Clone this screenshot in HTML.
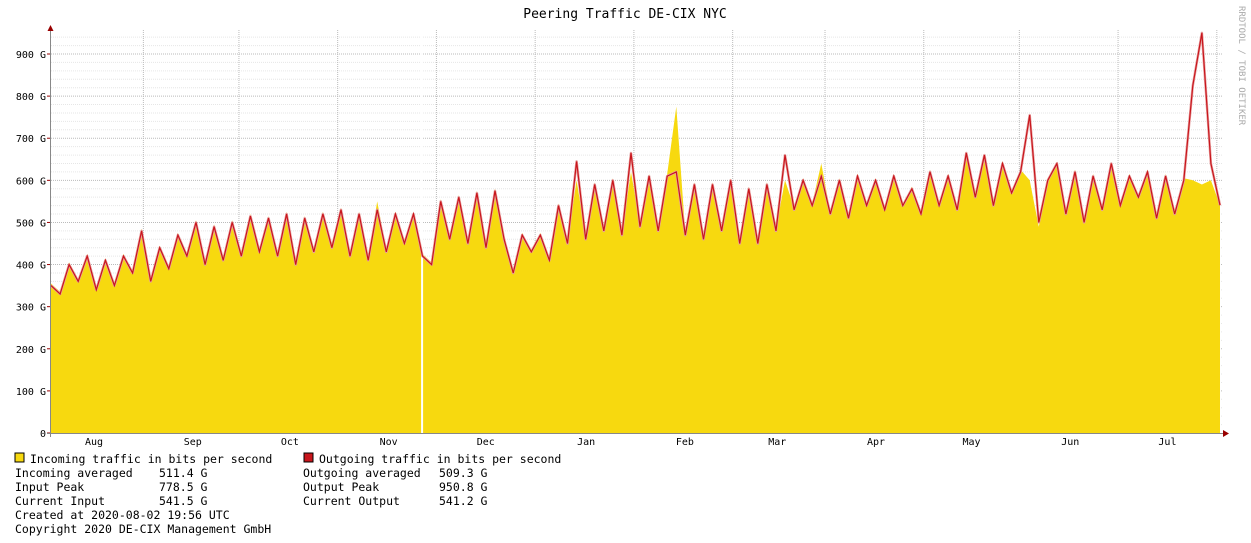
<!DOCTYPE html>
<html><head><meta charset="utf-8"><style>
body{margin:0;background:#fff;}
svg{display:block;font-family:"DejaVu Sans Mono","Liberation Mono",monospace;}
</style></head><body>
<svg id="chart" width="1251" height="543" viewBox="0 0 1251 543" xmlns="http://www.w3.org/2000/svg">
<rect width="1251" height="543" fill="#ffffff"/>
<text x="625" y="18" font-size="13" text-anchor="middle" fill="#000">Peering Traffic DE-CIX NYC</text>
<text transform="translate(1239,6) rotate(90)" font-size="9" fill="#aaa">RRDTOOL / TOBI OETIKER</text>
<g id="grid"></g>
<g id="series"></g>
<g id="axes"></g>
<g font-size="11.5" fill="#000">
<rect x="15" y="453" width="9" height="9" fill="#f7d90f" stroke="#000" stroke-width="1"/>
<text x="30" y="463">Incoming traffic in bits per second</text>
<rect x="304" y="453" width="9" height="9" fill="#c8161d" stroke="#000" stroke-width="1"/>
<text x="319" y="463">Outgoing traffic in bits per second</text>
<text x="15" y="477">Incoming averaged</text><text x="159" y="477">511.4 G</text>
<text x="15" y="491">Input Peak</text><text x="159" y="491">778.5 G</text>
<text x="15" y="505">Current Input</text><text x="159" y="505">541.5 G</text>
<text x="303" y="477">Outgoing averaged</text><text x="439" y="477">509.3 G</text>
<text x="303" y="491">Output Peak</text><text x="439" y="491">950.8 G</text>
<text x="303" y="505">Current Output</text><text x="439" y="505">541.2 G</text>
<text x="15" y="519">Created at 2020-08-02 19:56 UTC</text>
<text x="15" y="533">Copyright 2020 DE-CIX Management GmbH</text>
</g>
</svg>
<script>
const yTicks = [0,100,200,300,400,500,600,700,800,900];
const yTickLabels = ["0","100 G","200 G","300 G","400 G","500 G","600 G","700 G","800 G","900 G"];
const monthLabels = ["Aug","Sep","Oct","Nov","Dec","Jan","Feb","Mar","Apr","May","Jun","Jul"];
const monthCenters = [13.5,44.5,75,106,136.5,168,199,228,259,289,320,350.5];
const monthLines = [29,59,90,121,152,183,214,243,274,304,335,366];
const outgoing = [350,330,400,360,420,340,410,350,420,380,480,360,440,390,470,420,500,400,490,410,
500,420,515,430,510,420,520,400,510,430,520,440,530,420,520,410,530,430,520,450,
520,420,400,550,460,560,450,570,440,575,460,380,470,430,470,410,540,450,645,460,
590,480,600,470,665,490,610,480,610,620,470,590,460,590,480,600,450,580,450,590,
480,660,530,600,540,610,520,600,510,610,540,600,530,610,540,580,520,620,540,610,
530,665,560,660,540,640,570,620,755,500,600,640,520,620,500,610,530,640,540,610,
560,620,510,610,520,600,825,950,640,541];
const incoming = [355,335,405,365,425,345,415,355,425,385,485,365,445,395,475,425,505,405,495,415,
505,425,520,435,515,425,525,405,515,435,525,445,535,425,525,415,550,435,525,455,
520,425,405,555,465,565,455,575,445,580,465,385,475,435,475,415,545,455,600,465,
595,485,605,475,620,495,615,485,615,775,475,595,465,595,485,605,455,585,455,595,
485,600,535,605,545,640,525,605,515,615,545,605,535,615,545,585,525,625,545,615,
535,660,565,650,545,645,575,625,600,490,605,640,525,625,505,615,535,635,545,615,
565,625,515,615,525,605,600,590,600,541];
const gapDays = [116.5];
const DAYS = 367, X0 = 51, X1 = 1220, Y0 = 433, YMAX_PX = 54, YMAX = 900;
const NS = "http://www.w3.org/2000/svg";
function xDay(d){ return X0 + d/DAYS*(X1-X0); }
function xIdx(i,n){ return X0 + i/(n-1)*(X1-X0); }
function yVal(v){ return Y0 - v/YMAX*(Y0-YMAX_PX); }
function mk(tag, attrs, parent){ const e=document.createElementNS(NS,tag); for(const k in attrs) e.setAttribute(k,attrs[k]); parent.appendChild(e); return e; }
const grid=document.getElementById('grid'), series=document.getElementById('series'), axes=document.getElementById('axes');
// minor horizontal grid
for(let v=20; v<=940; v+=20){ if(v%100===0) continue;
  const l=mk('line',{x1:X0,x2:X1+2,y1:yVal(v),y2:yVal(v),stroke:'#e6e6e6','stroke-width':1,'stroke-dasharray':'1,1'},grid);
  
  
}
yTicks.forEach((v,i)=>{
  if(v>0){ const l=mk('line',{x1:X0,x2:X1+2,y1:yVal(v),y2:yVal(v),stroke:'#bbb','stroke-width':1,'stroke-dasharray':'1,1'},grid);
    
     }
  const t=mk('text',{x:46,y:yVal(v)+4,'font-size':10,'text-anchor':'end',fill:'#000'},axes);
  t.textContent=yTickLabels[i];
  
  
  const tk=mk('line',{x1:47,x2:51,y1:yVal(v),y2:yVal(v),stroke:'#900'},axes);
  
  
});
monthLines.forEach(d=>{
  const l=mk('line',{x1:xDay(d),x2:xDay(d),y1:30,y2:Y0,stroke:'#bbb','stroke-width':1,'stroke-dasharray':'1,1'},grid);
  
  
});
monthLabels.forEach((m,i)=>{
  const t=mk('text',{x:xDay(monthCenters[i]),y:445,'font-size':10,'text-anchor':'middle',fill:'#000'},axes);
  t.textContent=m;
  
  
});
// incoming area
let d='M'+X0+','+Y0;
incoming.forEach((v,i)=>{ d+=' L'+xIdx(i,incoming.length).toFixed(1)+','+yVal(v).toFixed(1); });
d+=' L'+X1+','+Y0+' Z';
const area=mk('path',{d:d,fill:'#f7d90f'},series);


gapDays.forEach(g=>{
  const r=mk('rect',{x:xDay(g)-1,y:30,width:2,height:Y0-30,fill:'#fff'},series);
  
  
});
let d2='';
outgoing.forEach((v,i)=>{ d2+=(i?' L':'M')+xIdx(i,outgoing.length).toFixed(1)+','+yVal(v).toFixed(1); });
const halo=mk('path',{d:d2,fill:'none',stroke:'#e8a0a0','stroke-width':2.5,'stroke-linejoin':'round'},series);


const line=mk('path',{d:d2,fill:'none',stroke:'#c8161d','stroke-width':1.2},series);


// axes
const xa=mk('line',{x1:47,x2:1226,y1:Y0+0.5,y2:Y0+0.5,stroke:'#888'},axes);


const ya=mk('line',{x1:X0-0.5,x2:X0-0.5,y1:28,y2:437,stroke:'#888'},axes);


const ax1=mk('path',{d:'M1223,430 L1229,433.5 L1223,437 Z',fill:'#900'},axes);


const ax2=mk('path',{d:'M47.5,31 L50.5,25 L53.5,31 Z',fill:'#900'},axes);


</script>
</body></html>
